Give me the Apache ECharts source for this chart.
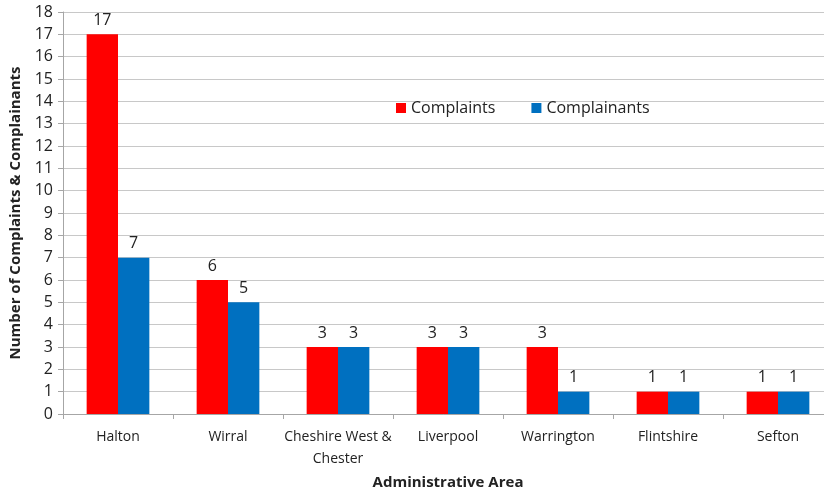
<!DOCTYPE html>
<html>
<head>
<meta charset="utf-8">
<script src="https://cdn.jsdelivr.net/npm/echarts@6/dist/echarts.min.js"></script>
<style>
  html, body { margin: 0; padding: 0; background: #fff; }
  #chart { width: 824px; height: 491px; }
</style>
</head>
<body>
<div id="chart"></div>
<script>
// data
var areas = ["Halton", "Wirral", "Cheshire West & Chester", "Liverpool", "Warrington", "Flintshire", "Sefton"];
var complaints = [17, 6, 3, 3, 3, 1, 1];
var complainants = [7, 5, 3, 3, 1, 1, 1];

var font = "Open Sans";
var chart = echarts.init(document.getElementById("chart"));

var option = {
  animation: false,
  textStyle: { fontFamily: font },
  grid: { left: 63, top: 12, width: 770, height: 402, containLabel: false, outerBoundsMode: "none" },
  legend: {
    left: 391,
    top: 95,
    itemWidth: 10,
    itemHeight: 10,
    itemGap: 36,
    icon: "rect",
    textStyle: { fontSize: 16, color: "#222", fontFamily: font },
    data: ["Complaints", "Complainants"]
  },
  xAxis: {
    type: "category",
    data: areas,
    name: "Administrative Area",
    nameLocation: "middle",
    nameGap: 60,
    nameTextStyle: { fontSize: 15, fontWeight: "bold", color: "#222", fontFamily: font },
    axisLine: { lineStyle: { color: "#a6a6a6" } },
    axisTick: { show: true, length: 5, lineStyle: { color: "#a6a6a6" } },
    axisLabel: {
      interval: 0, fontSize: 14, color: "#222", margin: 12, lineHeight: 22,
      formatter: function (v) { return v === "Cheshire West & Chester" ? "Cheshire West &\nChester" : v; }
    }
  },
  yAxis: {
    type: "value",
    min: 0,
    max: 18,
    interval: 1,
    name: "Number of Complaints & Complainants",
    nameLocation: "middle",
    nameGap: 40,
    nameTextStyle: { fontSize: 15, fontWeight: "bold", color: "#222", fontFamily: font },
    axisLine: { show: true, lineStyle: { color: "#a6a6a6" } },
    axisTick: { show: true, length: 5, lineStyle: { color: "#a6a6a6" } },
    axisLabel: { fontSize: 16, color: "#222", margin: 10 },
    splitLine: { lineStyle: { color: "#c8c8c8" } }
  },
  series: [
    {
      name: "Complaints",
      type: "bar",
      data: complaints,
      barGap: "0%",
      barCategoryGap: "43%",
      itemStyle: { color: "#ff0000" },
      label: { show: true, position: "top", fontSize: 16, color: "#222", distance: 6 }
    },
    {
      name: "Complainants",
      type: "bar",
      data: complainants,
      itemStyle: { color: "#0070c0" },
      label: { show: true, position: "top", fontSize: 16, color: "#222", distance: 6 }
    }
  ]
};
chart.setOption(option);
</script>
</body>
</html>
